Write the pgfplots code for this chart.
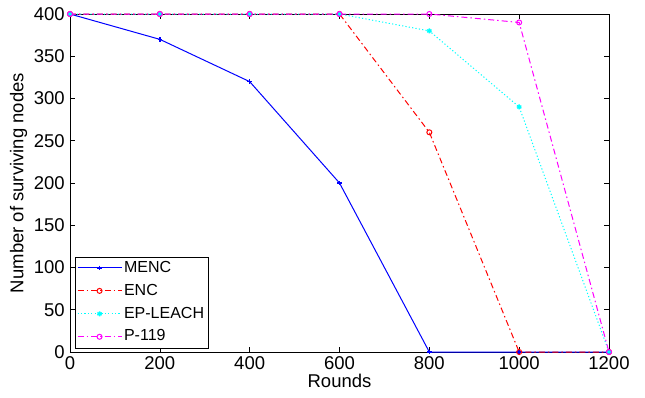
\documentclass[border=0pt]{standalone}
\usepackage{fontspec}
\setmainfont{Liberation Sans}
\usepackage{pgfplots}
\pgfplotsset{compat=1.18}
\definecolor{mblue}{RGB}{0,0,255}
\definecolor{mred}{RGB}{255,0,0}
\definecolor{mcyan}{RGB}{0,255,255}
\definecolor{mmag}{RGB}{255,0,255}
\begin{document}
\fontsize{18.5}{21}\selectfont
\begin{tikzpicture}
\path[use as bounding box] (-70pt,-45pt) rectangle (575pt,352pt);
\begin{axis}[
  at={(0pt,0pt)}, anchor=south west,
  scale only axis, width=539pt, height=338pt,
  xmin=0, xmax=1200, ymin=0, ymax=400,
  xtick={0,200,...,1200}, ytick={0,50,...,400},
  tick align=inside, major tick length=5pt,
  axis line style={line width=0.8pt},
  tick style={line width=0.6pt, black},
  /pgf/number format/assume math mode=true,
  /pgf/number format/1000 sep={},
  ticklabel style={font=\fontsize{18.5}{21}\selectfont},
  label style={font=\fontsize{18.5}{21}\selectfont},
  xticklabel style={yshift=2pt},
  yticklabel style={xshift=1pt},
  xlabel={Rounds}, ylabel={Number of surviving nodes},
  xlabel style={yshift=8pt},
  ylabel style={yshift=-6pt},
  legend style={at={(0.009,0.012)}, anchor=south west, font=\fontsize{16}{18}\selectfont, row sep=5pt, inner sep=2pt},
  legend cell align=left,
  legend image code/.code={\draw[mark repeat=2,mark phase=2] plot coordinates {(0pt,0pt)(22pt,0pt)(44pt,0pt)};},
  every axis plot/.append style={line width=1pt},
  clip=false,
]
\addplot[mblue, solid, mark=+, mark size=2.2pt, mark options={line width=1.4pt}] coordinates {(0,400)(200,370)(400,320)(600,200)(800,0)(1000,0)(1200,0)};
\addlegendentry{MENC}
\addplot[mred, dash pattern=on 6pt off 3pt on 1.5pt off 3pt, mark=o, mark size=2.5pt, mark options={solid}] coordinates {(0,400)(200,400)(400,400)(600,400)(800,260)(1000,0)(1200,0)};
\addlegendentry{ENC}
\addplot[mcyan, dash pattern=on 1.2pt off 2.2pt, mark=asterisk, mark size=2.5pt, mark options={solid, line width=1.4pt}] coordinates {(0,400)(200,400)(400,400)(600,400)(800,380)(1000,290)(1200,0)};
\addlegendentry{EP-LEACH}
\addplot[mmag, dash pattern=on 6pt off 3pt on 1.5pt off 3pt, mark=o, mark size=2.5pt, mark options={solid}] coordinates {(0,400)(200,400)(400,400)(600,400)(800,400)(1000,390)(1200,0)};
\addlegendentry{P-119}
\end{axis}
\end{tikzpicture}
\end{document}
